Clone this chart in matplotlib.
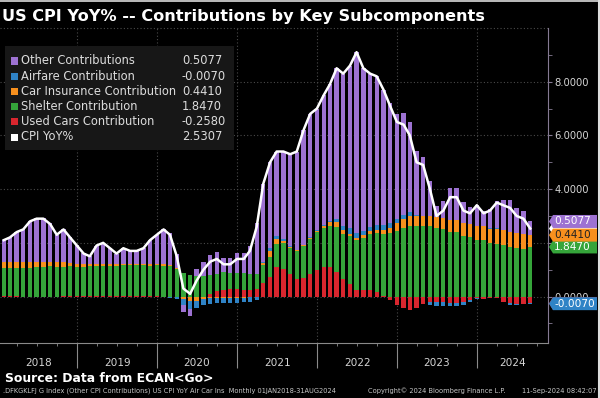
import numpy as np
import pandas as pd
import matplotlib
matplotlib.use('Agg')
import matplotlib.pyplot as plt
import matplotlib.dates as mdates
from matplotlib.patches import Polygon, Rectangle
from matplotlib.lines import Line2D
from matplotlib.ticker import FixedLocator, FixedFormatter

plt.rcParams['font.family'] = 'DejaVu Sans'

# monthly data, Jan 2018 - Aug 2024 (month-end)
months = pd.date_range('2018-01-31', '2024-08-31', freq='ME')

cpi_yoy = [2.1, 2.2, 2.4, 2.5, 2.8, 2.9, 2.9, 2.7, 2.3, 2.5, 2.2, 1.9,
           1.6, 1.5, 1.9, 2.0, 1.8, 1.6, 1.8, 1.7, 1.7, 1.8, 2.1, 2.3,
           2.5, 2.3, 1.5, 0.3, 0.1, 0.6, 1.0, 1.3, 1.4, 1.2, 1.2, 1.4,
           1.4, 1.7, 2.6, 4.2, 5.0, 5.4, 5.4, 5.3, 5.4, 6.2, 6.8, 7.0,
           7.5, 7.9, 8.5, 8.3, 8.6, 9.1, 8.5, 8.3, 8.2, 7.7, 7.1, 6.5,
           6.4, 6.0, 5.0, 4.9, 4.0, 3.0, 3.2, 3.7, 3.7, 3.2, 3.1, 3.4,
           3.1, 3.2, 3.5, 3.4, 3.3, 3.0, 2.9, 2.5307]

used_cars = [0.02, 0.01, 0.01, 0.0, -0.01, -0.01, -0.01, 0.0, 0.0, 0.01, 0.01, 0.01,
             0.01, 0.02, 0.02, 0.01, 0.02, 0.03, 0.03, 0.03, 0.02, 0.02, 0.01, 0.02,
             -0.01, -0.02, -0.02, -0.01, -0.03, -0.03, 0.0, 0.09, 0.19, 0.26, 0.27, 0.27,
             0.26, 0.25, 0.27, 0.5, 0.74, 1.1, 1.04, 0.84, 0.64, 0.7, 0.84, 0.99,
             1.09, 1.09, 0.93, 0.64, 0.46, 0.24, 0.24, 0.25, 0.18, 0.03, -0.12, -0.3,
             -0.42, -0.5, -0.42, -0.28, -0.2, -0.22, -0.22, -0.25, -0.25, -0.22, -0.12, -0.05,
             -0.08, -0.05, -0.05, -0.2, -0.25, -0.27, -0.27, -0.258]

shelter = [1.05, 1.06, 1.07, 1.07, 1.08, 1.1, 1.1, 1.12, 1.11, 1.1, 1.11, 1.1,
           1.1, 1.11, 1.12, 1.13, 1.13, 1.12, 1.14, 1.14, 1.15, 1.14, 1.13, 1.14,
           1.14, 1.12, 1.04, 0.88, 0.82, 0.78, 0.76, 0.72, 0.66, 0.66, 0.62, 0.62,
           0.6, 0.58, 0.58, 0.68, 0.75, 0.87, 0.95, 0.98, 1.06, 1.17, 1.3, 1.4,
           1.46, 1.55, 1.65, 1.7, 1.8, 1.87, 1.94, 2.08, 2.18, 2.3, 2.37, 2.45,
           2.55, 2.61, 2.63, 2.61, 2.61, 2.55, 2.51, 2.42, 2.39, 2.24, 2.21, 2.09,
           2.09, 1.99, 1.96, 1.93, 1.86, 1.8, 1.78, 1.847]

car_ins = [0.2, 0.21, 0.21, 0.22, 0.2, 0.2, 0.19, 0.18, 0.16, 0.16, 0.14, 0.12,
           0.1, 0.09, 0.08, 0.07, 0.06, 0.05, 0.05, 0.05, 0.05, 0.05, 0.06, 0.06,
           0.06, 0.05, 0.02, -0.08, -0.15, -0.15, -0.1, -0.06, -0.05, -0.05, -0.05, -0.04,
           -0.04, -0.02, 0.0, 0.08, 0.2, 0.17, 0.06, 0.04, 0.03, 0.06, 0.04, 0.06,
           0.09, 0.12, 0.18, 0.12, 0.08, 0.07, 0.1, 0.1, 0.12, 0.15, 0.2, 0.3,
           0.33, 0.4, 0.37, 0.4, 0.4, 0.41, 0.41, 0.44, 0.45, 0.5, 0.5, 0.55,
           0.52, 0.52, 0.55, 0.56, 0.56, 0.56, 0.54, 0.441]

airfare = [0.01, 0.01, 0.0, 0.0, -0.01, -0.01, -0.02, -0.02, -0.01, 0.0, 0.0, -0.01,
           -0.01, -0.01, 0.0, 0.0, 0.01, 0.01, 0.0, 0.0, -0.01, -0.01, 0.0, 0.0,
           -0.02, -0.04, -0.08, -0.22, -0.28, -0.24, -0.2, -0.2, -0.2, -0.19, -0.19, -0.19,
           -0.18, -0.17, -0.12, 0.03, 0.1, 0.12, 0.08, 0.02, 0.0, 0.0, 0.02, 0.04,
           0.03, 0.05, 0.12, 0.18, 0.2, 0.2, 0.15, 0.17, 0.2, 0.2, 0.17, 0.15,
           0.15, 0.15, 0.04, -0.01, -0.1, -0.15, -0.15, -0.11, -0.11, -0.1, -0.1, -0.05,
           0.01, 0.05, 0.04, 0.0, -0.05, -0.04, -0.02, -0.007]

other = [0.82, 0.91, 1.11, 1.21, 1.54, 1.62, 1.64, 1.42, 1.04, 1.23, 0.94, 0.68,
         0.40, 0.29, 0.68, 0.79, 0.58, 0.39, 0.58, 0.48, 0.49, 0.60, 0.90, 1.08,
         1.33, 1.19, 0.54, -0.27, -0.26, 0.24, 0.54, 0.75, 0.80, 0.52, 0.55, 0.74,
         0.76, 1.06, 1.87, 2.91, 3.21, 3.14, 3.27, 3.42, 3.67, 4.27, 4.60, 4.51,
         4.83, 5.09, 5.62, 5.66, 6.06, 6.72, 6.07, 5.70, 5.52, 5.02, 4.48, 3.90,
         3.79, 3.34, 2.38, 2.18, 1.29, 0.41, 0.65, 1.20, 1.22, 0.78, 0.61, 0.76,
         0.56, 0.69, 1.00, 1.11, 1.18, 0.95, 0.87, 0.5077]

years = [2018, 2019, 2020, 2021, 2022, 2023, 2024]
ytick_vals = [0, 2, 4, 6, 8]
# 2.0000 sits under the shelter tag in the original, so it is left blank
ytick_labels = ['0.0000', '', '4.0000', '6.0000', '8.0000']

# stacking order from zero outwards
series = [used_cars, shelter, car_ins, airfare, other]
names = ['Used Cars Contribution', 'Shelter Contribution', 'Car Insurance Contribution',
         'Airfare Contribution', 'Other Contributions']
colors = ['#d8262e', '#35a53a', '#f7901e', '#2f83c6', '#9d72d2']

W, H = 600, 398
fig = plt.figure(figsize=(6, 3.98), dpi=100, facecolor='black')
ax = fig.add_axes([0, 55 / H, 548 / W, 315 / H])
ax.set_facecolor('black')

def fx(px):
    return px / W

def fy(py):
    return 1 - py / H

pos_base = np.zeros(len(months))
neg_base = np.zeros(len(months))
tag_y = []
for vals, col in zip(series, colors):
    v = np.array(vals)
    bottom = np.where(v >= 0, pos_base, neg_base)
    ax.bar(months, v, width=20, bottom=bottom, color=col, linewidth=0, zorder=3)
    pos_base += np.where(v >= 0, v, 0)
    neg_base += np.where(v < 0, v, 0)
    tag_y.append(pos_base[-1] if v[-1] >= 0 else neg_base[-1])

ax.plot(months, cpi_yoy, color='white', lw=1.8, zorder=4, solid_joinstyle='round')

ax.set_xlim(pd.Timestamp('2018-01-14'), pd.Timestamp('2024-11-20'))
ylo, yhi = -1.73, 10.0

# axes styling
for s in ['left', 'top']:
    ax.spines[s].set_visible(False)
ax.spines['right'].set_color('#857a93')
ax.spines['bottom'].set_color('#8a8a8a')
ax.yaxis.tick_right()
ax.yaxis.set_major_locator(FixedLocator(ytick_vals))
ax.yaxis.set_minor_locator(FixedLocator([-1, 1, 3, 5, 7, 9]))
ax.yaxis.set_major_formatter(FixedFormatter(ytick_labels))
ax.tick_params(axis='y', which='both', colors='#857a93', labelcolor='#d4d4d4',
               labelsize=7.2, length=3, pad=1.5, direction='out')
ax.xaxis.set_major_locator(mdates.YearLocator())
ax.xaxis.set_minor_locator(mdates.MonthLocator(bymonth=[4, 7, 10]))
ax.tick_params(axis='x', which='major', length=18, color='#8a8a8a', labelbottom=False)
ax.tick_params(axis='x', which='minor', length=2.5, color='#8a8a8a')

ax.grid(True, which='major', color='#4a4a4a', linestyle=(0, (1, 2)), linewidth=0.8, zorder=0)
ax.axhline(10, color='#4a4a4a', linestyle=(0, (1, 2)), linewidth=0.8, clip_on=False, zorder=0)
ax.set_axisbelow(True)

# year labels centred in the visible part of each year
x0, x1 = ax.get_xlim()
for yr in years:
    a = max(x0, mdates.date2num(pd.Timestamp(f'{yr}-01-01')))
    b = min(x1, mdates.date2num(pd.Timestamp(f'{yr + 1}-01-01')))
    ax.text((a + b) / 2, -20 / 315, str(yr), transform=ax.get_xaxis_transform(),
            ha='center', va='center', color='#d4d4d4', fontsize=7.6)

# value tags on the right axis
ppu = 315 / (yhi - ylo)
h = 6.5 / ppu
def tag(val, color, txt=None, tcolor='white'):
    xa, xb, xc = 1 + 1 / 548, 1 + 5 / 548, 1 + 49 / 548
    poly = Polygon([[xa, val], [xb, val + h], [xc, val + h], [xc, val - h], [xb, val - h]],
                   closed=True, transform=ax.get_yaxis_transform(), facecolor=color,
                   edgecolor='none', clip_on=False, zorder=6)
    ax.add_patch(poly)
    if txt:
        ax.text(1 + 6 / 548, val, txt, transform=ax.get_yaxis_transform(), ha='left',
                va='center', color=tcolor, fontsize=7.6, zorder=7, clip_on=False)

tag(cpi_yoy[-1], 'white')
tag(tag_y[0], colors[0])
tag(tag_y[1], colors[1], f'{shelter[-1]:.4f}')
tag(tag_y[2], colors[2], f'{car_ins[-1]:.4f}', tcolor='#222222')
tag(tag_y[4], colors[4], f'{other[-1]:.4f}')
tag(tag_y[3], colors[3], f'{airfare[-1]:.4f}')

ax.set_ylim(ylo, yhi)

# legend box
fig.add_artist(Rectangle((fx(5), fy(150)), 229 / W, 104 / H, transform=fig.transFigure,
                         facecolor='#171717', edgecolor='none', zorder=1))
leg_rows = [('Other Contributions', other[-1], colors[4]),
            ('Airfare Contribution', airfare[-1], colors[3]),
            ('Car Insurance Contribution', car_ins[-1], colors[2]),
            ('Shelter Contribution', shelter[-1], colors[1]),
            ('Used Cars Contribution', used_cars[-1], colors[0]),
            ('CPI YoY%', cpi_yoy[-1], 'white')]
for i, (lab, val, col) in enumerate(leg_rows):
    yy = 61 + i * 15.2
    fig.add_artist(Rectangle((fx(11), fy(yy + 3.5)), 7 / W, 7 / H, transform=fig.transFigure,
                             facecolor=col, edgecolor='none', zorder=2))
    fig.text(fx(21), fy(yy), lab, color='#dcdcdc', fontsize=8.3, va='center')
    fig.text(fx(182), fy(yy), f'{val:.4f}', color='#dcdcdc', fontsize=8.3, va='center')

# title and footer
fig.text(fx(2), fy(16), 'US CPI YoY% -- Contributions by Key Subcomponents', color='white',
         fontsize=11.6, fontweight='bold', va='center')
fig.text(fx(5), fy(378), 'Source: Data from ECAN<Go>', color='white', fontsize=8.9,
         fontweight='bold', va='center')
fig.text(fx(3), fy(391), '.DFKGKLFJ G Index (Other CPI Contributions) US CPI YoY Air Car Ins  '
         'Monthly 01JAN2018-31AUG2024', color='#c8c8c8', fontsize=4.8, va='center')
fig.text(fx(437), fy(391), 'Copyright\u00a9 2024 Bloomberg Finance L.P.', color='#c8c8c8',
         fontsize=4.8, va='center', ha='center')
fig.text(fx(597), fy(391), '11-Sep-2024 08:42:07', color='#c8c8c8', fontsize=4.8,
         va='center', ha='right')

# thin light frame on top and right edge
fig.add_artist(Line2D([0, 1], [1 - 0.6 / H, 1 - 0.6 / H], transform=fig.transFigure,
                      color='#dddddd', lw=1.2))
fig.add_artist(Line2D([1 - 1.5 / W, 1 - 1.5 / W], [0, 1], transform=fig.transFigure,
                      color='#dddddd', lw=1.5))

fig.savefig('out.png', dpi=100, facecolor='black')
